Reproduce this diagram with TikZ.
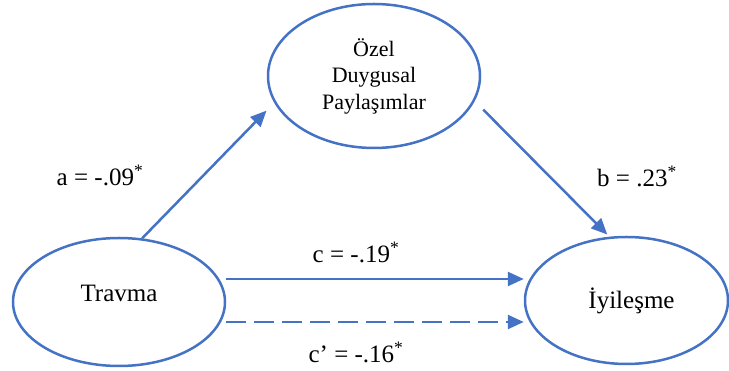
\documentclass[tikz,border=0pt]{standalone}
\usepackage{fontspec}
\setmainfont{Liberation Serif}
\usepackage{xcolor}
\usetikzlibrary{arrows.meta, positioning, calc, shapes.geometric}
\definecolor{accent}{HTML}{4472C4}

\begin{document}
\begin{tikzpicture}[x=1pt, y=1pt,
    var/.style={ellipse, draw=accent, line width=2.5pt, inner sep=0pt},
    effect/.style={draw=accent, line width=2.5pt, -{Triangle[length=16pt, width=14pt]}},
    coef/.style={anchor=base, font=\fontsize{25}{29}\selectfont}]
    \useasboundingbox (0,0) rectangle (729,371);
    \node[var, minimum width=212pt, minimum height=144pt, align=center,
        font=\fontsize{22}{26.5}\selectfont] (ozel) at (374,295) {Özel\\Duygusal\\Paylaşımlar};
    \node[var, minimum width=212pt, minimum height=128pt,
        label={[coef, yshift=9pt]center:Travma}] (travma) at (119,69) {};
    \node[var, minimum width=203pt, minimum height=127pt,
        label={[coef, xshift=5pt]center:İyileşme}] (iyilesme) at (626.5,70.5) {};
    % paths
    \draw[effect, shorten >=11pt] (travma.70) -- (ozel.195);
    \draw[effect, shorten <=12pt, shorten >=3pt] (ozel.346) -- (iyilesme.105);
    \draw[effect] ([yshift=23pt]travma.east) -- ([yshift=23pt]travma.east -| iyilesme.west);
    \draw[effect, dash pattern=on 20pt off 8pt] ([yshift=-20pt]travma.east) -- ([yshift=-20pt]travma.east -| iyilesme.west);
    % coefficients
    \node[coef] (a) at (100,185) {a = -.09\textsuperscript{*}};
    \node[coef] (b) at (637,184) {b = .23\textsuperscript{*}};
    \node[coef] (c) at (356,108) {c = -.19\textsuperscript{*}};
    \node[coef] (cp) at (356,8) {c’ = -.16\textsuperscript{*}};
\end{tikzpicture}
\end{document}
